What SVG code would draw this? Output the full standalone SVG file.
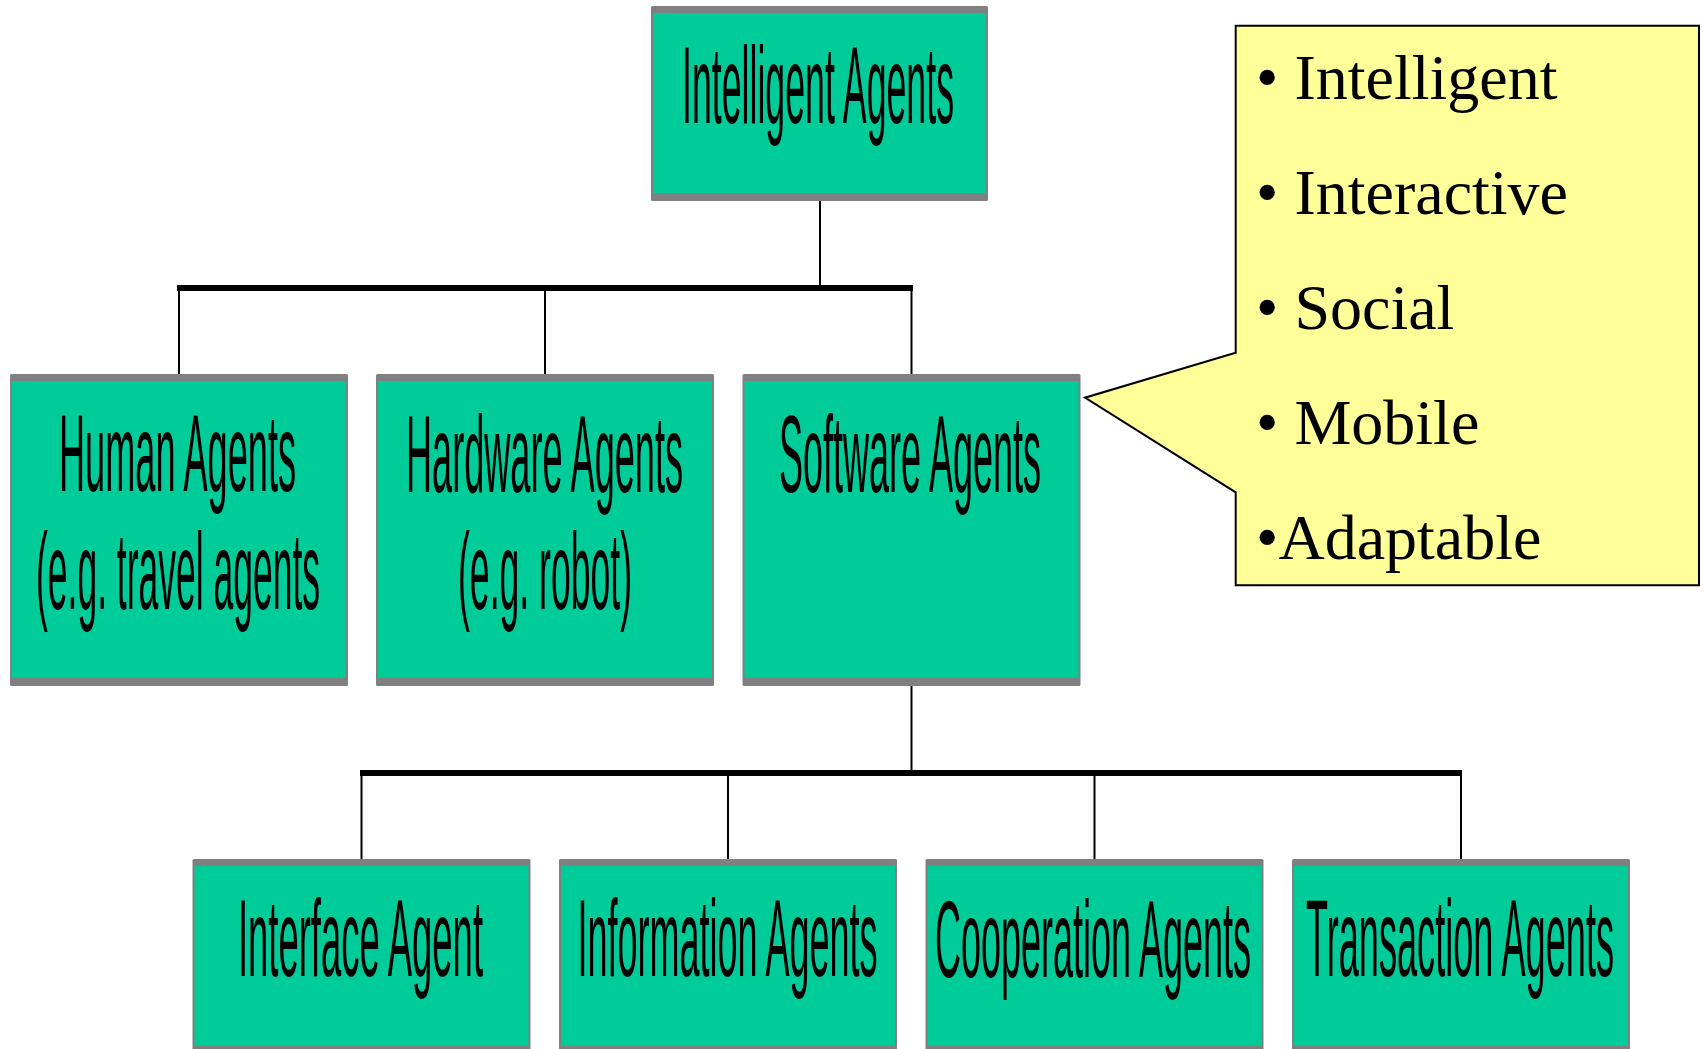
<svg xmlns="http://www.w3.org/2000/svg" width="1703" height="1049" viewBox="0 0 1703 1049">
  <style>
    .frame { fill: #808080; }
    .face { fill: #00CC99; }
    .label { font-family: "Liberation Sans", Arial, sans-serif; font-size: 110px; fill: #000; }
    .bar { stroke: #000; stroke-width: 6; fill: none; }
    .stem { stroke: #000; stroke-width: 2; fill: none; }
    .callout { fill: #FFFF99; stroke: #000; stroke-width: 2; }
    .item { font-family: "Liberation Serif", "Times New Roman", serif; font-size: 64px; fill: #000; }
  </style>

  <!-- tree connectors -->
  <g id="connectors">
    <line class="stem" x1="820" y1="200" x2="820" y2="288"/>
    <line class="bar" x1="177" y1="288" x2="913" y2="288"/>
    <line class="stem" x1="179" y1="288" x2="179" y2="374"/>
    <line class="stem" x1="545" y1="288" x2="545" y2="374"/>
    <line class="stem" x1="911.5" y1="288" x2="911.5" y2="374"/>

    <line class="stem" x1="911.5" y1="685" x2="911.5" y2="773"/>
    <line class="bar" x1="360" y1="773" x2="1462" y2="773"/>
    <line class="stem" x1="361.5" y1="773" x2="361.5" y2="859"/>
    <line class="stem" x1="728" y1="773" x2="728" y2="859"/>
    <line class="stem" x1="1094.5" y1="773" x2="1094.5" y2="859"/>
    <line class="stem" x1="1461" y1="773" x2="1461" y2="859"/>
  </g>

  <!-- root -->
  <g id="intelligent-agents">
    <rect class="frame" x="651" y="6" width="337" height="195" rx="1.5"/>
    <rect class="face" x="653" y="13" width="333" height="180"/>
    <text class="label" x="682" y="123" textLength="272" lengthAdjust="spacingAndGlyphs">Intelligent Agents</text>
  </g>

  <!-- second level -->
  <g id="human-agents">
    <rect class="frame" x="10" y="374" width="338" height="312" rx="1.5"/>
    <rect class="face" x="12" y="381" width="334" height="297"/>
    <text class="label" x="59" y="491" textLength="237" lengthAdjust="spacingAndGlyphs">Human Agents</text>
    <text class="label" x="36" y="609" textLength="284" lengthAdjust="spacingAndGlyphs">(e.g. travel agents</text>
  </g>

  <g id="hardware-agents">
    <rect class="frame" x="376" y="374" width="338" height="312" rx="1.5"/>
    <rect class="face" x="378" y="381" width="334" height="297"/>
    <text class="label" x="406" y="491.5" textLength="277" lengthAdjust="spacingAndGlyphs">Hardware Agents</text>
    <text class="label" x="458" y="608.5" textLength="174" lengthAdjust="spacingAndGlyphs">(e.g. robot)</text>
  </g>

  <g id="software-agents">
    <rect class="frame" x="742.5" y="374" width="338" height="312" rx="1.5"/>
    <rect class="face" x="744.5" y="381" width="334" height="297"/>
    <text class="label" x="779" y="491.5" textLength="262" lengthAdjust="spacingAndGlyphs">Software Agents</text>
  </g>

  <!-- third level -->
  <g id="interface-agent">
    <rect class="frame" x="192.5" y="859" width="338" height="196" rx="1.5"/>
    <rect class="face" x="194.5" y="866" width="334" height="180"/>
    <text class="label" x="238" y="976" textLength="245" lengthAdjust="spacingAndGlyphs">Interface Agent</text>
  </g>

  <g id="information-agents">
    <rect class="frame" x="559" y="859" width="338" height="196" rx="1.5"/>
    <rect class="face" x="561" y="866" width="334" height="180"/>
    <text class="label" x="577.5" y="976" textLength="300" lengthAdjust="spacingAndGlyphs">Information Agents</text>
  </g>

  <g id="cooperation-agents">
    <rect class="frame" x="925.5" y="859" width="338" height="196" rx="1.5"/>
    <rect class="face" x="927.5" y="866" width="334" height="180"/>
    <text class="label" x="935" y="976.5" textLength="316" lengthAdjust="spacingAndGlyphs">Cooperation Agents</text>
  </g>

  <g id="transaction-agents">
    <rect class="frame" x="1292" y="859" width="338" height="196" rx="1.5"/>
    <rect class="face" x="1294" y="866" width="334" height="180"/>
    <text class="label" x="1306" y="976" textLength="308" lengthAdjust="spacingAndGlyphs">Transaction Agents</text>
  </g>

  <!-- properties callout pointing at Software Agents -->
  <g id="properties-callout">
    <polygon class="callout" points="1235.7,25.7 1699,25.7 1699,585.3 1235.7,585.3 1235.7,492.3 1085,397.7 1235.7,352.7"/>
    <text class="item" x="1256" y="99.3">• Intelligent</text>
    <text class="item" x="1256" y="214.3">• Interactive</text>
    <text class="item" x="1256" y="329.3">• Social</text>
    <text class="item" x="1256" y="444.3">• Mobile</text>
    <text class="item" x="1256" y="559.3">•Adaptable</text>
  </g>
</svg>
